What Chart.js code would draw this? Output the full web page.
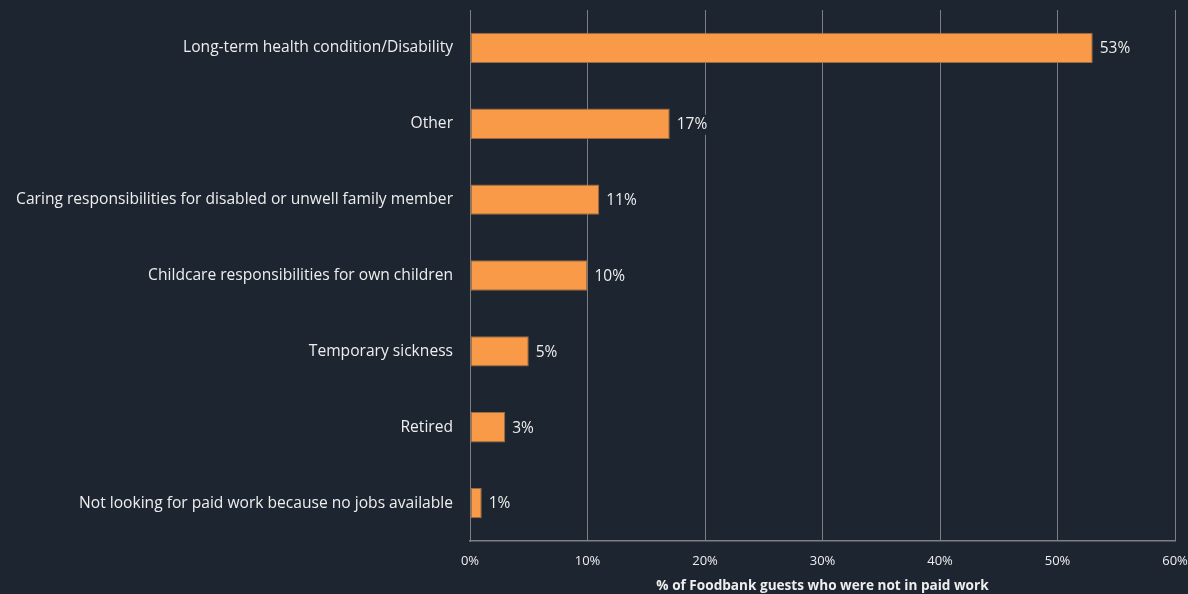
<!DOCTYPE html>
<html lang="en">
<head>
<meta charset="utf-8">
<title>Reasons for not being in paid work</title>
<script src="https://cdn.jsdelivr.net/npm/chart.js@4.4.1/dist/chart.umd.min.js"></script>
<style>
    html, body { margin: 0; padding: 0; background: #1d2530; }
    #wrap { width: 1188px; height: 594px; position: relative; }
</style>
</head>
<body>
<div id="wrap"><canvas id="reasonsChart"></canvas></div>
<script>
const categories = [
    'Long-term health condition/Disability',
    'Other',
    'Caring responsibilities for disabled or unwell family member',
    'Childcare responsibilities for own children',
    'Temporary sickness',
    'Retired',
    'Not looking for paid work because no jobs available'
];
const shares = [53, 17, 11, 10, 5, 3, 1];
const xTicks = [0, 10, 20, 30, 40, 50, 60];
const xTitle = '% of Foodbank guests who were not in paid work';

const BG = '#1d2530';
const BAR = '#f89a48';
const GRID = '#7d7f84';
const TEXT = '#eeeeee';
const FONT = '"Open Sans", "Noto Sans", sans-serif';

// draws "NN%" just past the end of each bar, over a patch of background so gridlines don't cut through
const valueLabels = {
    id: 'valueLabels',
    afterDatasetsDraw(chart) {
        const ctx = chart.ctx;
        const meta = chart.getDatasetMeta(0);
        ctx.save();
        ctx.font = '15.5px ' + FONT;
        ctx.textBaseline = 'middle';
        meta.data.forEach((bar, i) => {
            const txt = shares[i] + '%';
            const w = ctx.measureText(txt).width;
            const x = bar.x + 6;
            const y = bar.y + 1;
            ctx.fillStyle = BG;
            ctx.fillRect(x - 1, y - 10, w + 3, 20);
            ctx.fillStyle = TEXT;
            ctx.fillText(txt, x + 1, y);
        });
        ctx.restore();
    }
};

function initChart() {
    const ctx = document.getElementById('reasonsChart').getContext('2d');
    new Chart(ctx, {
        type: 'bar',
        data: {
            labels: categories,
            datasets: [{
                data: shares,
                backgroundColor: BAR,
                borderColor: '#9a6a45',
                borderWidth: 1,
                borderSkipped: false,
                categoryPercentage: 1,
                barPercentage: 0.4
            }]
        },
        options: {
            indexAxis: 'y',
            responsive: true,
            maintainAspectRatio: false,
            animation: false,
            layout: { padding: { top: 10, right: 13, left: 0, bottom: 0 } },
            plugins: { legend: { display: false }, tooltip: { enabled: false } },
            scales: {
                x: {
                    min: 0,
                    max: 60,
                    afterBuildTicks: s => { s.ticks = xTicks.map(v => ({ value: v })); },
                    afterFit: s => {
                        s.height = 53;
                        s.paddingLeft = 0;
                        s.paddingRight = 0;
                    },
                    grid: { color: GRID, lineWidth: 1, drawTicks: false },
                    border: { color: GRID, width: 1.5 },
                    ticks: {
                        color: TEXT,
                        font: { family: FONT, size: 13 },
                        padding: 12,
                        callback: v => v + '%',
                        maxRotation: 0
                    },
                    title: {
                        display: true,
                        text: xTitle,
                        color: TEXT,
                        font: { family: FONT, size: 13.6, weight: 'bold' },
                        padding: { top: 2, bottom: 0 }
                    }
                },
                y: {
                    afterFit: s => {
                        s.width = 470;
                        s.paddingTop = 0;
                        s.paddingBottom = 0;
                    },
                    grid: { display: false, drawTicks: false },
                    border: { color: GRID, width: 1 },
                    ticks: {
                        color: TEXT,
                        font: { family: FONT, size: 15.6 },
                        padding: 17
                    }
                }
            }
        },
        plugins: [valueLabels]
    });
}

window.onload = initChart;
</script>
</body>
</html>
